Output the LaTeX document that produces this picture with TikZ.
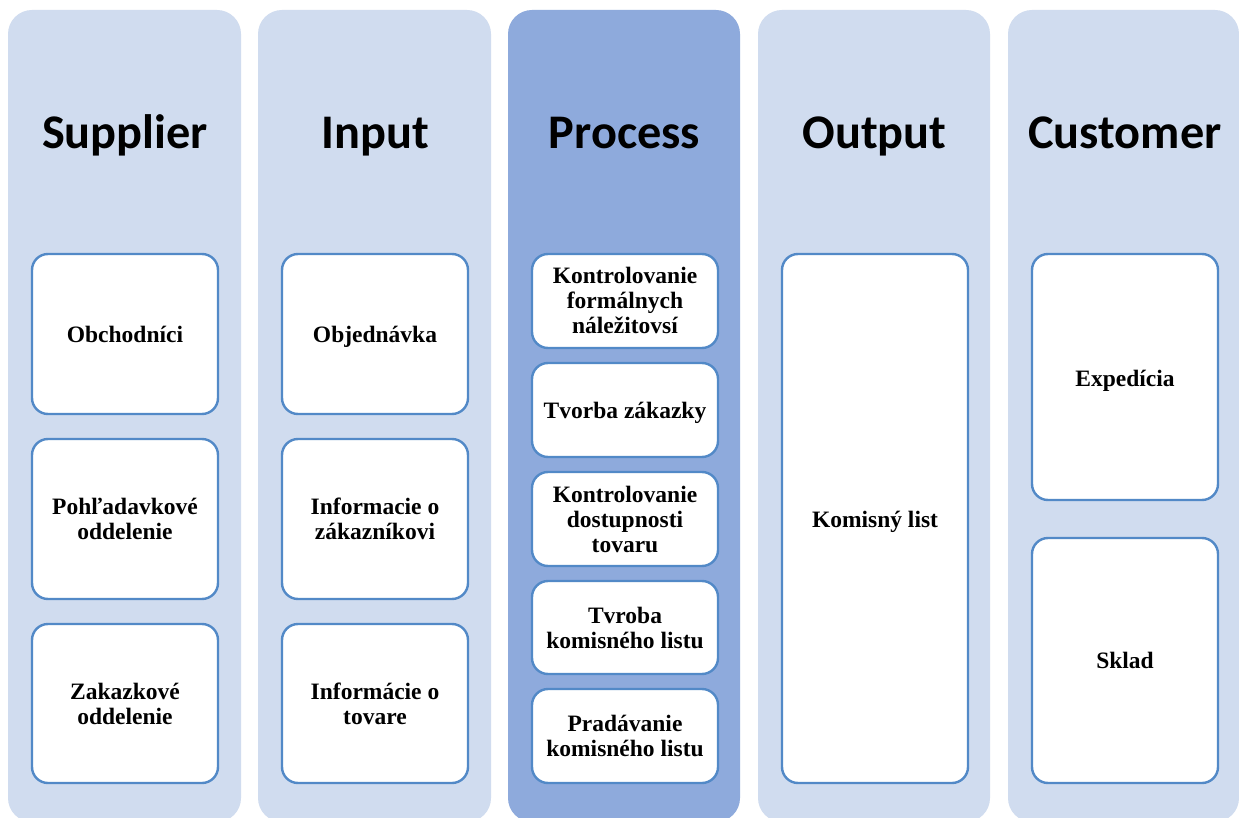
\documentclass[tikz,border=0pt]{standalone}
\usepackage{fontspec}
\setmainfont{Liberation Serif}
\newfontfamily\headfont{Carlito}
\definecolor{lane}{HTML}{D0DCEF}
\definecolor{lanemid}{HTML}{8EAADC}
\definecolor{boxline}{HTML}{5289C7}
\begin{document}
\begin{tikzpicture}[x=1pt,y=-1pt,
  lanebox/.style={fill=lane, draw=none, rounded corners=24pt},
  midlane/.style={fill=lanemid, draw=none, rounded corners=24pt},
  head/.style={font=\headfont\bfseries\fontsize{48.3}{54}\selectfont, anchor=base},
  item/.style={draw=boxline, line width=2.4pt, fill=white, rounded corners=16pt},
  label/.style={font=\bfseries\fontsize{23.5}{25}\selectfont, align=center, anchor=center}]
\useasboundingbox (0,0) rectangle (1239,818);
\fill[white] (0,0) rectangle (1239,818);

% lanes
\path[lanebox] (8,10) rectangle (241,822);
\path[lanebox] (258,10) rectangle (491,822);
\path[midlane] (508,10) rectangle (740,822);
\path[lanebox] (758,10) rectangle (990,822);
\path[lanebox] (1008,10) rectangle (1239,822);

% lane headings
\node[head] (hs) at (125,149) {Supplier};
\node[head] (hi) at (375,149) {Input};
\node[head] (hp) at (624.5,149) {Process};
\node[head] (ho) at (874.5,149) {Output};
\node[head] (hc) at (1125,149) {Customer};

% supplier
\draw[item] (32,254) rectangle (218,414);
\node[label] (s1) at (125,334) {Obchodníci};
\draw[item] (32,439) rectangle (218,599);
\node[label] (s2) at (125,519) {Pohľadavkové\\oddelenie};
\draw[item] (32,624) rectangle (218,783);
\node[label] (s3) at (125,703.5) {Zakazkové\\oddelenie};

% input
\draw[item] (282,254) rectangle (468,414);
\node[label] (i1) at (375,337) {Objednávka};
\draw[item] (282,439) rectangle (468,599);
\node[label] (i2) at (375,519) {Informacie o\\zákazníkovi};
\draw[item] (282,624) rectangle (468,783);
\node[label] (i3) at (375,703.5) {Informácie o\\tovare};

% process
\draw[item] (532,254) rectangle (718,348);
\node[label] (p1) at (625,300.5) {Kontrolovanie\\formálnych\\náležitovsí};
\draw[item] (532,363) rectangle (718,457);
\node[label] (p2) at (625,413) {Tvorba zákazky};
\draw[item] (532,472) rectangle (718,566);
\node[label] (p3) at (625,519) {Kontrolovanie\\dostupnosti\\tovaru};
\draw[item] (532,581) rectangle (718,674);
\node[label] (p4) at (625,627.5) {Tvroba\\komisného listu};
\draw[item] (532,689) rectangle (718,783);
\node[label] (p5) at (625,736) {Pradávanie\\komisného listu};

% output
\draw[item] (782,254) rectangle (968,783);
\node[label] (o1) at (875,521.5) {Komisný list};

% customer
\draw[item] (1032,254) rectangle (1218,500);
\node[label] (c1) at (1125,380.5) {Expedícia};
\draw[item] (1032,538) rectangle (1218,783);
\node[label] (c2) at (1125,660.5) {Sklad};
\end{tikzpicture}
\end{document}
